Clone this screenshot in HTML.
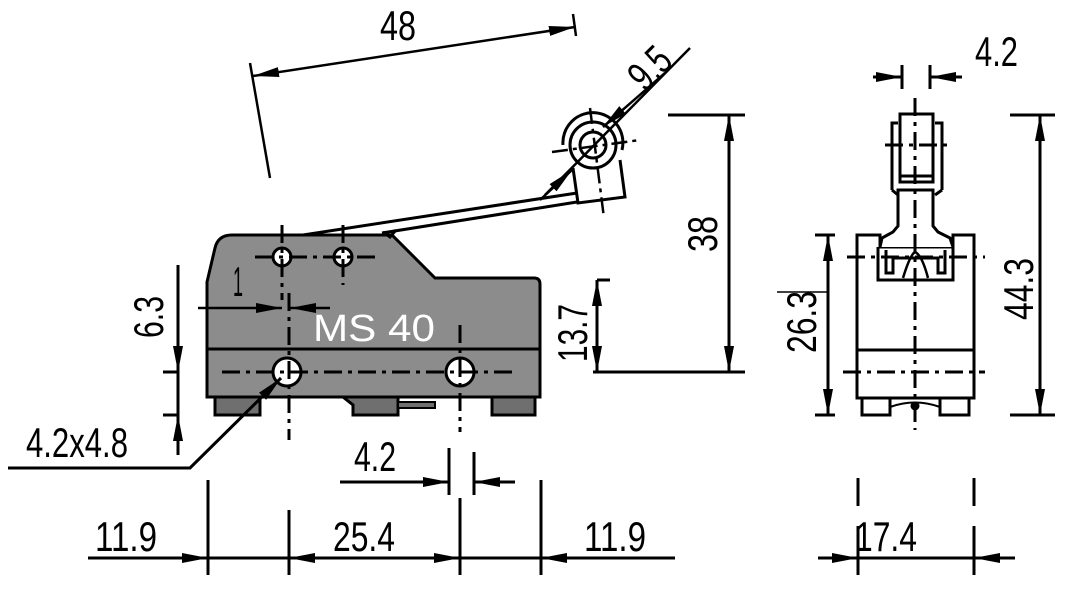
<!DOCTYPE html>
<html><head><meta charset="utf-8"><style>
html,body{margin:0;padding:0;background:#fff;}
svg{display:block;}
text{font-family:"Liberation Sans",sans-serif;font-size:42px;fill:#000;}
</style></head><body>
<svg width="1088" height="592" viewBox="0 0 1088 592" xmlns="http://www.w3.org/2000/svg">
<defs>
<marker id="a" markerUnits="userSpaceOnUse" markerWidth="28" markerHeight="14" refX="26" refY="6" orient="auto-start-reverse" viewBox="0 0 28 12">
<path d="M0,1 L26,6 L0,11 Z" fill="#000"/>
</marker>
</defs>
<g stroke="#000" stroke-width="3" fill="none" stroke-linecap="butt">
<path d="M207,282 L207,397 L540,397 L540,284 Q540,278 534,278 L435,278 L392,235 L232,235 Q218,235 215,248 Z" fill="#8c8c8c"/>
<line x1="207" y1="349" x2="540" y2="349"/>
<rect x="215" y="397" width="45" height="18" fill="#6f6f6f"/>
<path d="M343,397 L353,405 L353,415 L398,415 L398,397 Z" fill="#6f6f6f"/>
<rect x="398" y="402" width="37" height="6" fill="#6f6f6f" stroke-width="2"/>
<rect x="492" y="397" width="43" height="18" fill="#6f6f6f"/>
<circle cx="282" cy="257" r="9" fill="#fff"/>
<circle cx="343" cy="257" r="9" fill="#fff"/>
<circle cx="287" cy="372" r="14" fill="#fff"/>
<circle cx="460" cy="372" r="14" fill="#fff"/>
<g stroke-dasharray="18,6,4,6">
<line x1="255" y1="257" x2="380" y2="257"/>
<line x1="282" y1="225" x2="282" y2="300"/>
<line x1="343" y1="225" x2="343" y2="285"/>
<line x1="222" y1="372" x2="515" y2="372"/>
<line x1="289" y1="293" x2="289" y2="440"/>
<line x1="460" y1="325" x2="460" y2="432"/>
</g>
<line x1="303" y1="235" x2="577" y2="193"/>
<line x1="382" y1="233" x2="577" y2="202"/>
<path d="M383,232 L390,237 L396,230"/>
<path d="M573,168 L578,203 L625,197 L620,160" fill="#fff"/>
<path d="M563,145 A30,30 0 1 1 622,150"/>
<circle cx="593" cy="145" r="23" fill="none"/>
<circle cx="593" cy="145" r="13" fill="#fff"/>
<g stroke-width="2.5" stroke-dasharray="16,5,4,5">
<line x1="590" y1="108" x2="604" y2="218"/>
<line x1="552" y1="152" x2="640" y2="140"/>
</g>
<line x1="690" y1="48" x2="545" y2="195" stroke-width="2.5"/>
<line x1="665" y1="73" x2="603" y2="127" stroke-width="2.5" marker-end="url(#a)"/>
<line x1="540" y1="200" x2="572" y2="170" stroke-width="2.5" marker-end="url(#a)"/>
<line x1="250" y1="63" x2="270" y2="178" stroke-width="2.5"/>
<line x1="573" y1="14" x2="576" y2="36" stroke-width="2.5"/>
<line x1="253" y1="76" x2="575" y2="27" stroke-width="2.5" marker-start="url(#a)" marker-end="url(#a)"/>
<line x1="668" y1="115" x2="745" y2="115"/>
<line x1="593" y1="372" x2="745" y2="372"/>
<line x1="729" y1="115" x2="729" y2="372" marker-start="url(#a)" marker-end="url(#a)"/>
<line x1="597" y1="280" x2="610" y2="280"/>
<line x1="597" y1="280" x2="597" y2="372" marker-start="url(#a)" marker-end="url(#a)"/>
<line x1="163" y1="372" x2="178" y2="372"/>
<line x1="163" y1="415" x2="178" y2="415"/>
<line x1="178" y1="372" x2="178" y2="415"/>
<line x1="178" y1="265" x2="178" y2="372" marker-end="url(#a)"/>
<line x1="178" y1="455" x2="178" y2="415" marker-end="url(#a)"/>
<line x1="198" y1="308" x2="282" y2="308" stroke-width="2.5" marker-end="url(#a)"/>
<line x1="330" y1="308" x2="290" y2="308" stroke-width="2.5" marker-end="url(#a)"/>
<path d="M8,468 L190,468 L281,378" marker-end="url(#a)"/>
<line x1="208" y1="480" x2="208" y2="575"/>
<line x1="289" y1="510" x2="289" y2="575"/>
<line x1="460" y1="498" x2="460" y2="575"/>
<line x1="541" y1="480" x2="541" y2="575"/>
<line x1="88" y1="558" x2="208" y2="558" marker-end="url(#a)"/>
<line x1="208" y1="558" x2="289" y2="558"/>
<line x1="460" y1="558" x2="289" y2="558" marker-end="url(#a)"/>
<line x1="289" y1="558" x2="460" y2="558" marker-end="url(#a)"/>
<line x1="460" y1="558" x2="541" y2="558"/>
<line x1="675" y1="558" x2="541" y2="558" marker-end="url(#a)"/>
<line x1="449" y1="448" x2="449" y2="495"/>
<line x1="474" y1="452" x2="474" y2="495"/>
<line x1="340" y1="482" x2="449" y2="482" marker-end="url(#a)"/>
<line x1="515" y1="482" x2="474" y2="482" marker-end="url(#a)"/>

<path d="M857,398 L857,235 L880,235 L880,247 L953,247 L953,235 L974,235 L974,398 Z" fill="#fff"/>
<line x1="857" y1="350" x2="974" y2="350"/>
<path d="M878,247 L878,280 L953,280 L953,247"/>
<path d="M886,250 L886,273 L893,273 L893,258 L938,258 L938,273 L945,273 L945,250"/>
<path d="M903,278 Q910,255 915,252 Q922,255 928,278" stroke-width="2.5"/>
<path d="M862,398 L862,415 L890,415 L890,398 M940,398 L940,415 L969,415 L969,398"/>
<path d="M890,407 Q915,398 940,407" stroke-width="2"/>
<path d="M880,247 L882,238 L893,232 L898,226 L898,190 L933,190 L933,226 L938,232 L950,238 L953,247" fill="#fff"/>
<path d="M892,190 L892,123 L898,123 M942,190 L942,123 L935,123 M892,190 L898,195 M942,190 L935,195"/>
<rect x="900" y="114" width="33" height="68" fill="#fff"/>
<line x1="900" y1="176" x2="933" y2="176"/>
<circle cx="915" cy="406" r="3" fill="#000"/>
<g stroke-dasharray="18,6,4,6">
<line x1="915" y1="98" x2="915" y2="430"/>
<line x1="885" y1="145" x2="953" y2="145"/>
<line x1="847" y1="257" x2="985" y2="257"/>
<line x1="843" y1="372" x2="985" y2="372"/>
</g>
<line x1="902" y1="65" x2="902" y2="89"/>
<line x1="930" y1="65" x2="930" y2="89"/>
<line x1="873" y1="77" x2="902" y2="77" marker-end="url(#a)"/>
<line x1="962" y1="77" x2="930" y2="77" marker-end="url(#a)"/>
<line x1="815" y1="235" x2="835" y2="235"/>
<line x1="815" y1="415" x2="835" y2="415"/>
<line x1="828" y1="235" x2="828" y2="415" marker-start="url(#a)" marker-end="url(#a)"/>
<line x1="777" y1="292" x2="827" y2="292" stroke-width="1.5"/>
<line x1="1010" y1="115" x2="1055" y2="115"/>
<line x1="1010" y1="415" x2="1055" y2="415"/>
<line x1="1040" y1="115" x2="1040" y2="415" marker-start="url(#a)" marker-end="url(#a)"/>
<line x1="858" y1="478" x2="858" y2="506"/>
<line x1="974" y1="478" x2="974" y2="506"/>
<line x1="858" y1="526" x2="858" y2="575"/>
<line x1="974" y1="526" x2="974" y2="575"/>
<line x1="818" y1="558" x2="858" y2="558" marker-end="url(#a)"/>
<line x1="858" y1="558" x2="974" y2="558"/>
<line x1="1015" y1="558" x2="974" y2="558" marker-end="url(#a)"/>
</g>

<text x="380" y="40" textLength="36" lengthAdjust="spacingAndGlyphs">48</text>
<text transform="translate(645,93) rotate(-45)" textLength="42" lengthAdjust="spacingAndGlyphs">9.5</text>
<text x="233" y="296" textLength="10" lengthAdjust="spacingAndGlyphs">1</text>
<text x="313" y="341" style="fill:#fff;font-size:38px" textLength="122" lengthAdjust="spacingAndGlyphs">MS 40</text>
<text transform="translate(717,252) rotate(-90)" textLength="36" lengthAdjust="spacingAndGlyphs">38</text>
<text transform="translate(587,362) rotate(-90)" textLength="58" lengthAdjust="spacingAndGlyphs">13.7</text>
<text transform="translate(163,338) rotate(-90)" textLength="42" lengthAdjust="spacingAndGlyphs">6.3</text>
<text x="26" y="457" textLength="102" lengthAdjust="spacingAndGlyphs">4.2x4.8</text>
<text x="354" y="471" textLength="42" lengthAdjust="spacingAndGlyphs">4.2</text>
<text x="95" y="551" textLength="62" lengthAdjust="spacingAndGlyphs">11.9</text>
<text x="333" y="551" textLength="62" lengthAdjust="spacingAndGlyphs">25.4</text>
<text x="584" y="551" textLength="62" lengthAdjust="spacingAndGlyphs">11.9</text>
<text x="975" y="66" textLength="43" lengthAdjust="spacingAndGlyphs">4.2</text>
<text transform="translate(816,353) rotate(-90)" textLength="62" lengthAdjust="spacingAndGlyphs">26.3</text>
<text transform="translate(1033,320) rotate(-90)" textLength="62" lengthAdjust="spacingAndGlyphs">44.3</text>
<text x="855" y="551" textLength="62" lengthAdjust="spacingAndGlyphs">17.4</text>
</svg>
</body></html>
